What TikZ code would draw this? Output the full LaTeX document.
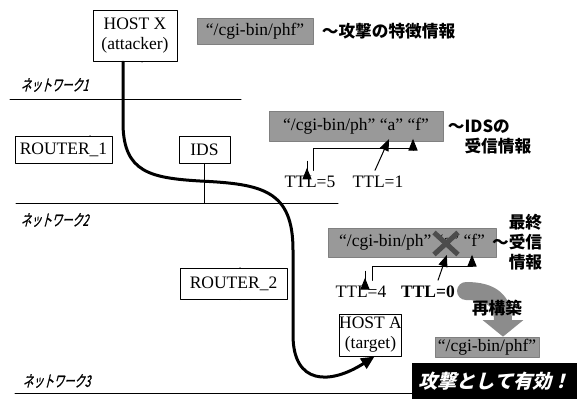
\documentclass[tikz,border=0pt]{standalone}
\usepackage{fontspec}
\setmainfont{Liberation Serif}
\newfontfamily\jpfont{Noto Sans CJK JP}
\newfontfamily\jpnet[FakeSlant=0.25,FakeStretch=0.65,FakeBold=1]{Noto Sans CJK JP}
\newfontfamily\jpitalic[FakeSlant=0.25]{Noto Sans CJK JP}
\usetikzlibrary{arrows.meta,calc,positioning}
\tikzset{
	>={Triangle[length=7pt,width=5.5pt]},
	netline/.style={black, line width=0.6pt},
	netlabel/.style={anchor=west, font=\jpnet\fontsize{9.5}{11}\selectfont},
	hostbox/.style={draw, line width=0.6pt, fill=white, align=center, inner sep=0pt, font=\fontsize{10.5}{12}\selectfont},
	sigbox/.style={fill=black!40, draw=black!50, line width=0.4pt, inner sep=0pt, font=\fontsize{10.5}{12}\selectfont},
	jplabel/.style={font=\jpfont\bfseries\fontsize{10}{12}\selectfont},
	ttl/.style={font=\fontsize{10.5}{12}\selectfont},
	ttlarrow/.style={->, line width=0.6pt, shorten >=-1.5pt},
	attack/.style={line width=1.8pt, -{Triangle[length=8pt,width=7pt]}},
	rebuild/.style={line width=10.8pt, black!45, -{Triangle[length=10pt,width=24pt]}},
	cross/.style={black!70, line width=3pt, line cap=butt},
	resultbox/.style={fill=black, text=white, inner sep=0pt, font=\jpitalic\bfseries\fontsize{11.5}{13}\selectfont}
}

\begin{document}
\begin{tikzpicture}[x=0.6pt, y=-0.6pt, line cap=round, line join=round]
	\useasboundingbox (0,0) rectangle (577,399);
	
	% Network segments
	\coordinate (n1w) at (10,99);
	\coordinate (n1e) at (241,99);
	\coordinate (n2w) at (16,203);
	\coordinate (n2e) at (338,203);
	\coordinate (n3w) at (15,393);
	\coordinate (n3e) at (460,393);
	\draw[netline] (n1w) -- (n1e);
	\draw[netline] (n2w) -- (n2e);
	\draw[netline] (n3w) -- (n3e);
	\node[netlabel] (net1) at (15,85) {ネットワーク1};
	\node[netlabel] (net2) at (15,220) {ネットワーク2};
	\node[netlabel] (net3) at (17,381) {ネットワーク3};
	
	% Hosts, routers and IDS
	\node[hostbox, minimum width=50.4pt, minimum height=30.6pt] (hostx) at (135,36) {HOST X\\(attacker)};
	\node[hostbox, minimum width=58.2pt, minimum height=16.2pt] (router1) at (63.5,149.5) {ROUTER\_1};
	\node[hostbox, minimum width=30.6pt, minimum height=16.2pt] (ids) at (204.5,149.5) {IDS};
	\node[hostbox, minimum width=64.2pt, minimum height=18.6pt] (router2) at (233.5,283.5) {ROUTER\_2};
	\node[hostbox, minimum width=35.4pt, minimum height=25.2pt] (hosta) at (370.5,335) {HOST A\\(target)};
	
	% Links to the networks
	\draw[netline] ($(hostx.south)+(7,0)$) -- ($(hostx.south)+(7,0)$ |- n1w);
	\draw[netline] ($(router1.north)+(26.5,0)$) -- ($(router1.north)+(26.5,0)$ |- n1w);
	\draw[netline] ($(router1.south)+(26.5,0)$) -- ($(router1.south)+(26.5,0)$ |- n2w);
	\draw[netline] (ids.south) -- (ids.south |- n2w);
	\draw[netline] ($(router2.north)+(6.5,0)$) -- ($(router2.north)+(6.5,0)$ |- n2w);
	\draw[netline] ($(router2.south)+(6.5,0)$) -- ($(router2.south)+(6.5,0)$ |- n3w);
	\draw[netline] ($(hosta.south)+(11.5,0)$) -- ($(hosta.south)+(11.5,0)$ |- n3w);
	
	% Attack path
	\draw[attack] ($(hostx.south)+(-12,0)$) -- (123,125)
		.. controls (124,172) and (150,178) .. (200,181)
		.. controls (262,184) and (293,190) .. (293,250) -- (293,335)
		.. controls (293,385) and (330,385) .. ($(hosta.south)+(4,0)$);
	
	% Signature
	\node[sigbox, minimum width=69.6pt, minimum height=15.6pt] (sig) at (255,31) {``/cgi-bin/phf''};
	\node[jplabel, anchor=west] (signote) at (316,31) {〜攻撃の特徴情報};
	
	% What the IDS receives
	\node[sigbox, minimum width=104.4pt, minimum height=18pt] (idsinfo) at (356,126) {``/cgi-bin/ph'' ``a'' ``f''};
	\node[jplabel, anchor=west, align=left] (idsnote) at (442,137) {〜IDSの\\\hphantom{〜}受信情報};
	\node[ttl] (ttl5) at (310,182) {TTL=5};
	\node[ttl] (ttl1) at (378,182) {TTL=1};
	\draw[ttlarrow] ($(ttl5.north)+(-3,0)$) -- ($(ttl5.north)+(-3,0)$ |- idsinfo.south);
	\draw[ttlarrow] ($(ttl5.north)+(3,0)$) -- ++(0,-22) -| ($(idsinfo.south)+(57,0)$);
	\draw[ttlarrow] ($(ttl1.north)+(-3,0)$) -- ($(idsinfo.south)+(32,0)$);
	
	% What the host finally receives
	\node[sigbox, minimum width=100.8pt, minimum height=17.4pt] (final) at (412,242.5) {``/cgi-bin/ph'' ``a'' ``f''};
	\draw[cross] ($(final.center)+(22,-10)$) -- ($(final.center)+(46,12)$);
	\draw[cross] ($(final.center)+(22,12)$) -- ($(final.center)+(46,-10)$);
	\node[jplabel, anchor=east, align=right] (finalnote) at (548,242) {最終\\〜受信\\情報};
	\node[ttl] (ttl4) at (361,292) {TTL=4};
	\node[ttl, font=\bfseries\fontsize{10.5}{12}\selectfont] (ttl0) at (428,292) {TTL=0};
	\draw[ttlarrow] ($(ttl4.north)+(4,0)$) -- ($(ttl4.north)+(4,0)$ |- final.south);
	\draw[ttlarrow] ($(ttl4.north)+(11,0)$) -- ++(0,-14) -| ($(final.south)+(60,0)$);
	\draw[ttlarrow] ($(ttl0.north)+(10,0)$) -- ($(final.south)+(34,0)$);
	
	% Reassembly
	\node[sigbox, minimum width=62.4pt, minimum height=12pt] (rebuilt) at (487,347) {``/cgi-bin/phf''};
	\coordinate (rstart) at (466,291);
	\draw[rebuild] (rstart) .. controls (493,291) and (503,302) .. ($(rebuilt.north)+(16,0)$);
	\node[jplabel] (rebuildnote) at (497,308) {再構築};
	
	% Result
	\node[resultbox, minimum width=99pt, minimum height=21.6pt] (result) at (494.5,381) {攻撃として有効！};
\end{tikzpicture}
\end{document}
